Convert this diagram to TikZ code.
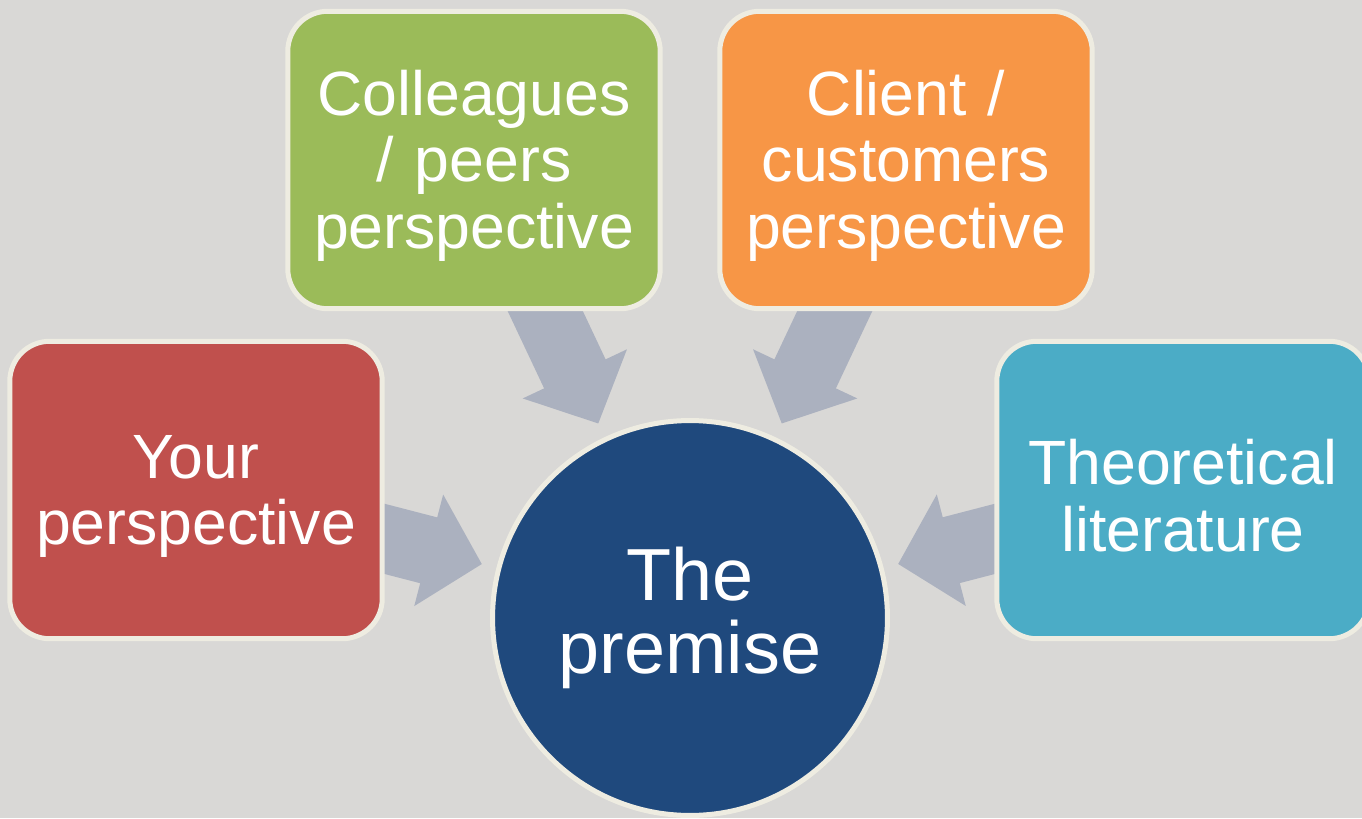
\documentclass[tikz,border=0pt]{standalone}
\usepackage{fontspec}
\setmainfont{Liberation Sans}
\usepackage{tikz}
\usetikzlibrary{
        arrows.meta,
        shapes,
        positioning
    }
\definecolor{slidebg}{HTML}{D9D8D6}
\definecolor{rim}{HTML}{EEECE1}
\definecolor{ownred}{HTML}{C0504D}
\definecolor{peergreen}{HTML}{9BBB59}
\definecolor{clientorange}{HTML}{F79646}
\definecolor{theoryblue}{HTML}{4BACC6}
\definecolor{premiseblue}{HTML}{1F497D}
\definecolor{flowgray}{HTML}{ABB1BF}
\pgfdeclarelayer{background}
\pgfsetlayers{background,main}

\begin{document}
\begin{tikzpicture}
[x=0.02cm, y=-0.02cm,
baseshape/.style={draw=rim, line width=0.1cm, text=white, align=center, inner sep=0pt},
viewbox/.style={baseshape, rectangle, rounded corners=0.8cm, minimum width=7.45cm, minimum height=5.95cm, text width=7.2cm,
font=\fontsize{35.6pt}{37.9pt}\selectfont, execute at begin node={\rule{0pt}{0.9em}}},
premise/.style={baseshape, circle, minimum size=7.9cm, fill=premiseblue, font=\fontsize{42pt}{42pt}\selectfont},
flow/.style={flowgray, line width=1.36cm, shorten >=4.3cm, -{Triangle[length=1.1cm 0 0, width=2.24cm 0 0]}},
]
    \useasboundingbox (0,0) rectangle (1362,818);
    \node (prem) [premise] at (690,618) {The\\premise};
    \node (own) [viewbox, fill=ownred] at (196,490) {Your\\perspective};
    \node (peers) [viewbox, fill=peergreen] at (474,160) {Colleagues\\/ peers\\perspective};
    \node (client) [viewbox, fill=clientorange] at (906,160) {Client /\\customers\\perspective};
    \node (theory) [viewbox, fill=theoryblue] at (1183,490) {Theoretical\\literature};

    \begin{pgfonlayer}{background}
    \fill[slidebg] (0,0) rectangle (1362,818);
    \foreach \src in {own, peers, client, theory}
        \draw[flow] (\src.center) -- (prem.center);
    \end{pgfonlayer}
\end{tikzpicture}
\end{document}
